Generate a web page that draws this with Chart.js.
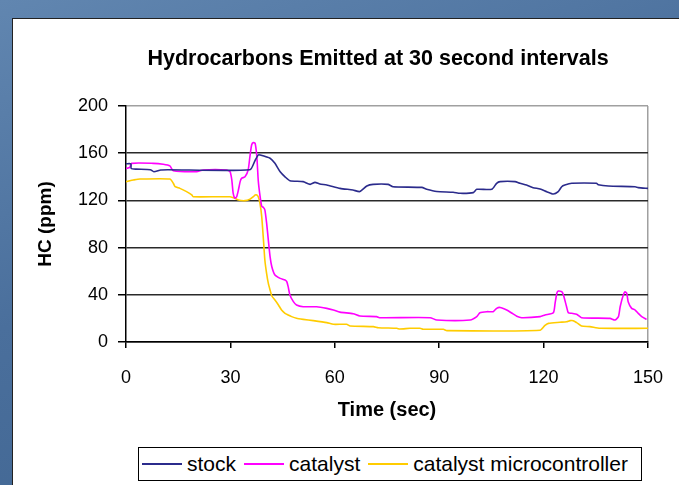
<!DOCTYPE html>
<html lang="en">
<head>
    <meta charset="UTF-8">
    <title>Hydrocarbons Emitted at 30 second intervals</title>
    <script src="https://cdn.jsdelivr.net/npm/chart.js"></script>
    <style>
        html, body {
            margin: 0;
            padding: 0;
            width: 679px;
            height: 485px;
            overflow: hidden;
            font-family: Arial, 'Liberation Sans', sans-serif;
            background: linear-gradient(160deg, #6186b0 0%, #4a6f9c 45%, #3d628e 100%);
        }

        .panel {
            position: absolute;
            left: 12px;
            top: 18px;
            width: 720px;
            height: 520px;
            background: #ffffff;
            border-left: 1.5px solid #222;
            border-top: 1.5px solid #222;
        }

        #chartBox {
            position: absolute;
            left: 0;
            top: 0;
            width: 679px;
            height: 485px;
        }

        .legend {
            position: absolute;
            left: 138px;
            top: 447px;
            width: 504px;
            height: 34px;
            box-sizing: border-box;
            padding-right: 10px;
            border: 1px solid #000;
            background: #fff;
            display: flex;
            align-items: center;
            justify-content: center;
            gap: 8px;
            font-size: 21px;
            color: #000;
        }

        .legend span.item {
            display: flex;
            align-items: center;
        }

        .legend span.swatch {
            display: inline-block;
            width: 40px;
            height: 2px;
            margin-right: 5px;
        }
    </style>
</head>
<body>
    <div class="panel"></div>
    <canvas id="chartBox" width="679" height="485"></canvas>
    <div class="legend" id="legend"></div>

    <script>
        // readings (time in sec, HC in ppm)
        const stockTime = [0, 1.4, 1.5, 3, 7, 8, 10, 12, 35.6, 37.1, 38, 38.5, 41.4, 42.8, 44.3, 45.7, 47.1, 50.9, 52.9, 54.3, 55.7, 57.7, 61.5, 65.2, 67.2, 69.2, 71, 75.3, 76.7, 85, 86.4, 89.3, 94, 96, 99.8, 100.8, 105.1, 106.5, 107.5, 111.8, 113.2, 115.1, 117, 119, 120.9, 122.8, 124.2, 125.2, 126.1, 128.1, 135.2, 135.7, 138.6, 146.3, 147.2, 150];
        const stockHC = [151, 151, 147, 146.5, 146, 144.3, 145.8, 146, 146, 154, 158.5, 158.5, 155.7, 151.4, 144.3, 140, 136.7, 135.9, 133.6, 135.3, 133.9, 133, 130.2, 128.8, 127.5, 132.2, 133.6, 133.6, 131.6, 131, 129.4, 127.5, 126.9, 126, 126.6, 129.4, 129.4, 134.5, 135.9, 135.9, 134.5, 133, 130.8, 129.7, 127.4, 125.4, 127.4, 131.6, 133, 134.5, 134.5, 133.3, 132.2, 131.6, 130.8, 130.2];

        const catalystTime = [0, 1.1, 1.6, 7.8, 10.7, 12.6, 13.6, 20.3, 22.2, 28.9, 29.9, 30.4, 30.8, 31.3, 31.8, 32.3, 32.8, 33.2, 34.2, 35.1, 35.6, 36.1, 36.6, 37.1, 37.6, 38, 38.5, 39, 39.5, 39.9, 40.4, 40.9, 41.4, 41.9, 42.8, 44.3, 45.7, 46.2, 46.6, 47.1, 48.1, 49, 50.9, 54.8, 57.7, 59.6, 61.5, 65.3, 67.2, 72, 73, 87.4, 89.3, 98.9, 100.8, 101.7, 103.7, 105.5, 106.5, 107.5, 109.4, 110.8, 112.3, 113.7, 119, 120.4, 122.8, 123.3, 123.8, 124.2, 125.2, 125.7, 126.6, 127.1, 128.1, 129.5, 130.9, 139.1, 140.5, 141.5, 142, 142.9, 143.4, 143.9, 144.3, 145.3, 146.3, 147.2, 148.2, 149.6];
        const catalystHC = [147, 148, 151.4, 151.4, 150.6, 149.2, 145.2, 144.3, 145.8, 145.8, 144.3, 137.3, 126, 121.8, 123.1, 128.8, 135.9, 138.7, 140, 145.8, 157, 167, 169, 168.4, 157, 137, 124, 115, 114, 112, 101, 86.4, 72.3, 63.8, 56.8, 53.9, 52.5, 51.1, 46.9, 39.8, 34.2, 31.4, 29.9, 29.9, 28.5, 27.1, 25.3, 24, 22, 21.5, 20.6, 20.6, 18.6, 18.6, 21.5, 24.8, 25.7, 25.7, 28.5, 29.3, 27.1, 24.6, 21.8, 20.6, 21.5, 22.9, 24.8, 32.8, 41.3, 43.2, 42.6, 39.8, 29.9, 24.8, 24.3, 23.5, 20.6, 20, 18.6, 21.5, 29.9, 39.8, 42.6, 41.3, 34.2, 28.5, 27.1, 24.3, 21.5, 19.2];

        const microTime = [0, 1.1, 2.1, 4, 12.6, 13.6, 14.1, 15.5, 17.4, 18.9, 19.3, 29.9, 31.3, 32.3, 34.2, 35.6, 36.6, 37.1, 37.6, 38, 38.5, 39, 39.5, 39.9, 40.4, 40.9, 41.4, 41.9, 42.8, 43.8, 44.7, 45.7, 46.6, 47.6, 49, 50.9, 53.8, 57.7, 59.6, 63.4, 64.4, 71.1, 72.5, 77.8, 78.7, 81.6, 84.5, 85.4, 91.2, 92.2, 119, 120.4, 121.4, 124.7, 126.6, 127.6, 128.5, 129.5, 130.9, 133.3, 136.2, 150];
        const microHC = [135.9, 136.7, 137.3, 138.1, 138.1, 134.5, 131.6, 130.2, 127.4, 124.6, 123.1, 123.1, 121.8, 120.3, 119.8, 121, 123.1, 124.6, 124.6, 123.1, 117.5, 106.2, 86.4, 69.5, 58.2, 49.7, 44.1, 39, 35.6, 31.4, 27.1, 24.3, 22.9, 21.5, 20.1, 19.2, 18.1, 16.4, 15, 15, 13.6, 13, 12.1, 11.6, 11, 11.6, 11.6, 10.8, 10.8, 9.6, 10, 14, 15.8, 16.7, 17.2, 18.1, 18.1, 16.4, 13.6, 13, 11.6, 11.6];

        const seriesNames = ['stock', 'catalyst', 'catalyst microcontroller'];
        const seriesColors = ['#2b2b8c', '#ff00ff', '#ffcc00'];
        const xTicks = [0, 30, 60, 90, 120, 150];
        const yTicks = [0, 40, 80, 120, 160, 200];

        function toPoints(xs, ys) {
            return xs.map((x, i) => ({ x: x, y: ys[i] }));
        }

        const seriesData = [
            toPoints(stockTime, stockHC),
            toPoints(catalystTime, catalystHC),
            toPoints(microTime, microHC)
        ];

        // HTML legend with the boxed look
        const legendEl = document.getElementById('legend');
        seriesNames.forEach((name, i) => {
            const item = document.createElement('span');
            item.className = 'item';
            item.innerHTML = '<span class="swatch" style="background:' + seriesColors[i] + '"></span>' + name;
            legendEl.appendChild(item);
        });

        // the title sits a bit right of the chart box centre, like the original
        const titleShift = {
            id: 'titleShift',
            afterLayout(chart) {
                const t = chart.titleBlock;
                if (!t) return;
                const dx = 378 - (t.left + t.right) / 2;
                t.left += dx;
                t.right += dx;
            }
        };

        const ctx = document.getElementById('chartBox').getContext('2d');
        const hcChart = new Chart(ctx, {
            type: 'line',
            data: {
                datasets: seriesNames.map((name, i) => ({
                    label: name,
                    data: seriesData[i],
                    borderColor: seriesColors[i],
                    backgroundColor: seriesColors[i],
                    borderWidth: 1.6,
                    pointRadius: 0,
                    tension: 0.2,
                    fill: false
                }))
            },
            plugins: [titleShift],
            options: {
                responsive: false,
                animation: false,
                layout: {
                    padding: { top: 36, left: 20, right: 31, bottom: 42 }
                },
                plugins: {
                    legend: { display: false },
                    tooltip: { enabled: false },
                    title: {
                        display: true,
                        text: 'Hydrocarbons Emitted at 30 second intervals',
                        color: '#000',
                        font: { family: 'Arial, "Liberation Sans"', size: 21.5, weight: 'bold' },
                        padding: { top: 10.1, bottom: 34.1 }
                    }
                },
                scales: {
                    x: {
                        type: 'linear',
                        min: 0,
                        max: 150,
                        afterBuildTicks: (axis) => { axis.ticks = xTicks.map(v => ({ value: v })); },
                        afterFit: (axis) => { axis.height = 101; },
                        border: { display: true, color: '#000', width: 1.5 },
                        grid: {
                            color: (c) => (c.tick && c.tick.value === 150) ? '#a0a0a0' : 'rgba(0,0,0,0)',
                            tickColor: '#000',
                            tickLength: 6,
                            lineWidth: 1.5
                        },
                        ticks: {
                            color: '#000',
                            font: { family: 'Arial, "Liberation Sans"', size: 18, lineHeight: 1.667 },
                            padding: 15,
                            maxRotation: 0
                        },
                        title: {
                            display: true,
                            text: 'Time (sec)',
                            color: '#000',
                            font: { family: 'Arial, "Liberation Sans"', size: 20, weight: 'bold' },
                            padding: { top: 0, bottom: 21 }
                        }
                    },
                    y: {
                        min: 0,
                        max: 200,
                        afterBuildTicks: (axis) => { axis.ticks = yTicks.map(v => ({ value: v })); },
                        afterFit: (axis) => { axis.width = 106; },
                        border: { display: true, color: '#000', width: 1.5 },
                        grid: {
                            color: (c) => (c.tick && c.tick.value === 200) ? '#a0a0a0' : '#2a2a2a',
                            tickColor: '#000',
                            tickLength: 8,
                            lineWidth: 1.5
                        },
                        ticks: {
                            color: '#000',
                            font: { family: 'Arial, "Liberation Sans"', size: 18 },
                            padding: 10
                        },
                        title: {
                            display: true,
                            text: 'HC (ppm)',
                            color: '#000',
                            font: { family: 'Arial, "Liberation Sans"', size: 19, weight: 'bold' },
                            padding: { top: 14.6, bottom: 0 }
                        }
                    }
                }
            }
        });
    </script>
</body>
</html>
